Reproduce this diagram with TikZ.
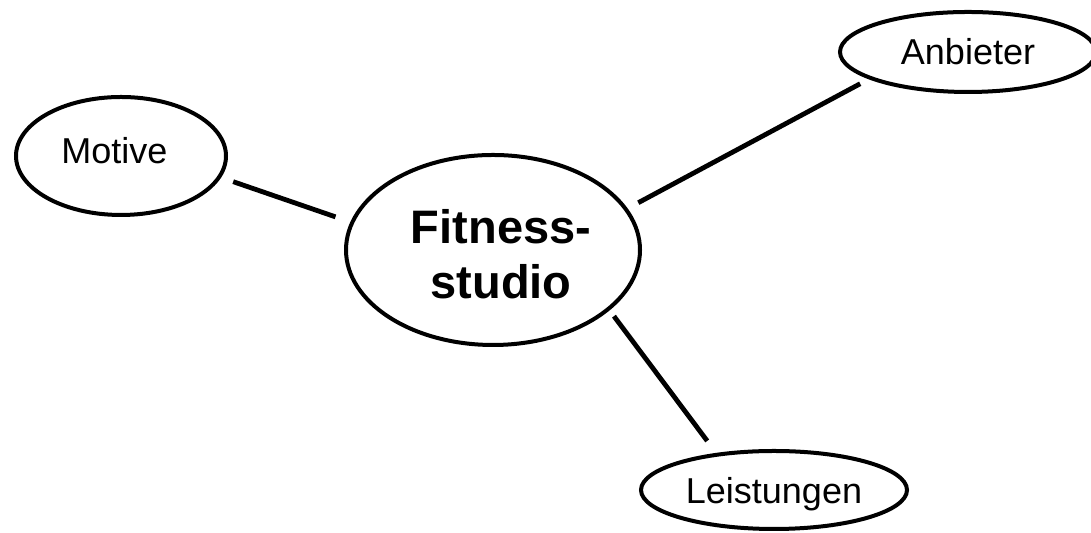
\documentclass[tikz,border=0pt]{standalone}
\usepackage{fontspec}
\setmainfont{Liberation Sans}
\usetikzlibrary{shapes.geometric}
\tikzset{
  topic/.style={draw=black, line width=2pt, ellipse, inner sep=0pt, outer sep=0pt, font=\fontsize{18}{21}\selectfont},
  hub/.style={topic, align=center, font=\fontsize{23.5}{27.5}\selectfont\bfseries},
  link/.style={line width=2.4pt, black}
}
\begin{document}
\begin{tikzpicture}[x=0.5pt, y=0.5pt]
\useasboundingbox (0,0) rectangle (1091,533);
\node[hub, minimum width=147pt, minimum height=95pt] (f) at (493,283) {\hspace*{8pt}\rule{0pt}{20.8pt}Fitness-\\\hspace*{8pt}studio};
\node[topic, minimum width=105pt, minimum height=59pt] (m) at (121,377) {\rule[-6pt]{0pt}{6pt}Motive\hspace*{6.5pt}};
\node[topic, minimum width=128pt, minimum height=40pt] (a) at (968,481) {Anbieter};
\node[topic, minimum width=133pt, minimum height=39pt, text depth=0pt] (l) at (774,43) {Leistungen};
\draw[link, shorten <=7.4pt, shorten >=8.85pt] (m.-12.2) -- (f.169.5);
\draw[link, shorten <=7.05pt, shorten >=6.05pt] (f.17.9) -- (a.-165.7);
\draw[link, shorten <=4.6pt, shorten >=8.6pt] (f.-27.6) -- (l.148.1);
\end{tikzpicture}
\end{document}
